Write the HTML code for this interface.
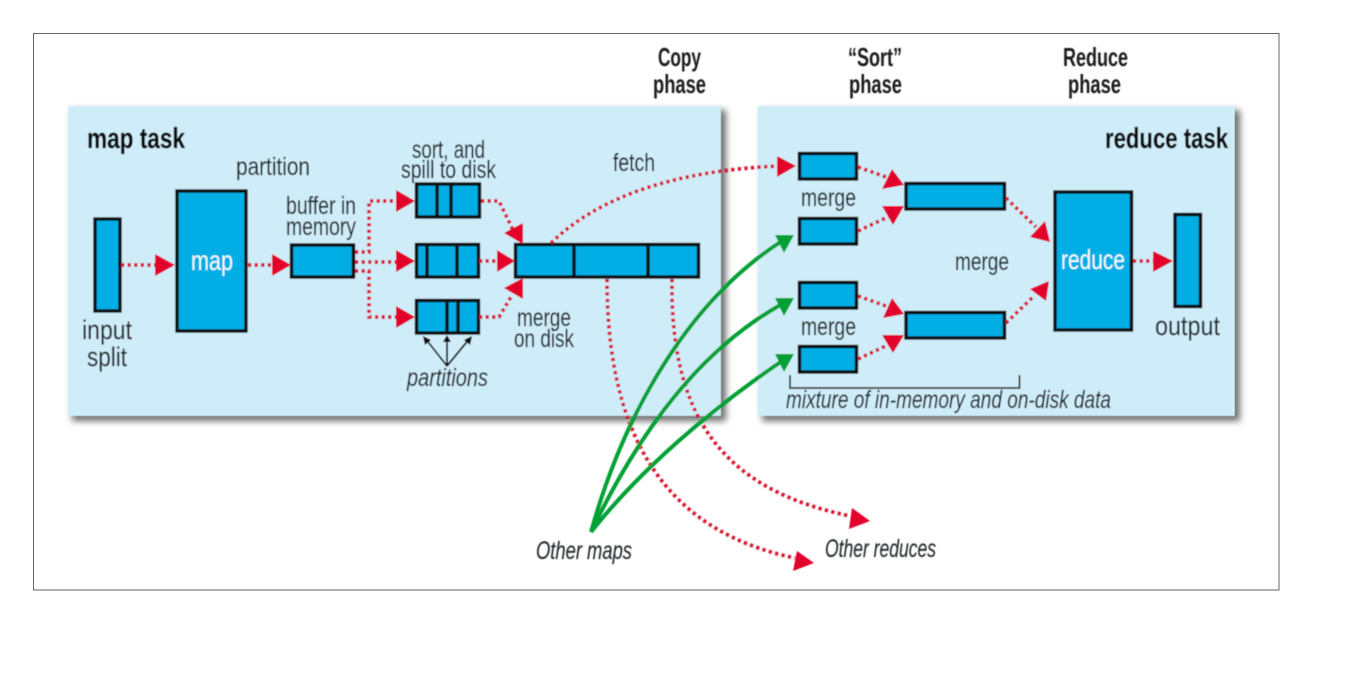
<!DOCTYPE html>
<html>
<head>
<meta charset="utf-8">
<style>
html,body{margin:0;padding:0;background:#fff;width:1358px;height:684px;overflow:hidden}
svg{display:block}
text{font-family:"Liberation Sans Narrow","Liberation Sans",sans-serif;fill:#25292e;font-size:25px;stroke:#25292e;stroke-width:.15}
.b{font-weight:bold;fill:#0c0c0c;stroke:#0c0c0c;stroke-width:.3}
.t{font-weight:bold;fill:#1a1a1a;font-size:26px;stroke:none}
.w{fill:#f2fbff;stroke:none;font-size:28px}
.i{font-style:italic}
.box{fill:#00ade4;stroke:#111;stroke-width:3.4}
.div{stroke:#111;stroke-width:3.4;fill:none}
.red{fill:none;stroke:#d8132f;stroke-width:3.7;stroke-dasharray:3.2 3.4}
.green{fill:none;stroke:#00a036;stroke-width:4}
.rh{fill:#e3002b}
.gh{fill:#00a036}
</style>
</head>
<body>
<svg width="1358" height="684" viewBox="0 0 1358 684" xmlns="http://www.w3.org/2000/svg">
<defs>
<filter id="sh" x="-5%" y="-5%" width="110%" height="110%"><feGaussianBlur stdDeviation="3.5"/></filter>
<filter id="soft" x="0" y="0" width="100%" height="100%"><feGaussianBlur stdDeviation="0.5"/></filter>
</defs>
<rect x="33.5" y="33.5" width="1245.500" height="556.500" fill="#fff" stroke="#666" stroke-width="1"/>
<rect x="72" y="110" width="654" height="311" fill="#555" opacity=".85" filter="url(#sh)"/>
<rect x="762" y="110" width="478" height="311" fill="#555" opacity=".85" filter="url(#sh)"/>
<g filter="url(#soft)">
<rect x="68" y="106" width="653" height="310" fill="#cfedf9"/>
<rect x="758" y="106" width="477" height="310" fill="#cfedf9"/>

<!-- boxes -->
<rect class="box" x="95" y="219" width="25" height="92"/>
<rect class="box" x="177" y="191" width="69" height="140"/>
<rect class="box" x="291.500" y="245" width="62" height="32"/>
<rect class="box" x="416.500" y="184" width="63" height="33"/>
<path class="div" d="M437,184V217M451,184V217"/>
<rect class="box" x="416.500" y="244.500" width="62" height="32.500"/>
<path class="div" d="M427,244V277M457,244V277"/>
<rect class="box" x="416.500" y="300.500" width="62" height="32.500"/>
<path class="div" d="M447,300V333M458,300V333"/>
<rect class="box" x="515.500" y="244.500" width="183" height="32.500"/>
<path class="div" d="M574,244V277M648,244V277"/>
<rect class="box" x="799.500" y="153.500" width="57" height="25.500"/>
<rect class="box" x="799.500" y="218.500" width="57" height="25.500"/>
<rect class="box" x="799.500" y="282.500" width="57" height="25.500"/>
<rect class="box" x="799.500" y="346.500" width="57" height="25.500"/>
<rect class="box" x="906" y="183.500" width="98.500" height="25.500"/>
<rect class="box" x="906" y="312.500" width="98.500" height="25.500"/>
<rect class="box" x="1055" y="192" width="76.500" height="138"/>
<rect class="box" x="1175" y="214.500" width="25.500" height="92"/>

<!-- red dotted connectors -->
<path class="red" d="M121,265H157M248,265H274"/>
<path class="red" d="M355,252H369V201H397M355,262H397M355,271H369V317H397"/>
<path class="red" d="M481,201H499L513,230M479,261H498M479,317H499L511,297"/>
<path class="red" d="M551,243C600,195 680,170 780,166"/>
<path class="red" d="M607,279C607,430 660,530 795,558"/>
<path class="red" d="M672,279C670,420 725,490 850,516"/>
<path class="red" d="M858,167L886,177M858,231L888,217M858,296L886,306M858,359L888,345"/>
<path class="red" d="M1006,198L1036,227M1006,323L1034,296M1133,261H1156"/>

<!-- red arrowheads -->
<g class="rh">
<polygon points="155,254 175,265 155,276"/>
<polygon points="272,254 291,265 272,276"/>
<polygon points="396,190 415,201 396,212"/>
<polygon points="396,250 415,261 396,272"/>
<polygon points="396,306 415,317 396,328"/>
<polygon points="504,233 523,223 523,244"/>
<polygon points="497,250 515,261 497,272"/>
<polygon points="504,288 523,278 523,299"/>
<polygon points="777,156 796,166 777,177"/>
<polygon points="892,169 882,189 904,185"/>
<polygon points="882,206 904,206 893,225"/>
<polygon points="892,298 883,318 904,314"/>
<polygon points="882,335 904,335 893,353"/>
<polygon points="1045,221 1030,237 1050,242"/>
<polygon points="1030,289 1049,281 1046,301"/>
<polygon points="1153,251 1173,261 1153,272"/>
<polygon points="797,551 793,571 814,563"/>
<polygon points="852,508 849,529 870,521"/>
</g>

<!-- green connectors -->
<path class="green" d="M591,532C625,410 690,300 782,241"/>
<path class="green" d="M591,532C640,430 700,350 782,304"/>
<path class="green" d="M591,532C640,470 710,410 782,361"/>
<g class="gh">
<polygon points="775,235 794,235 784,253"/>
<polygon points="775,298 794,298 784,316"/>
<polygon points="775,354 794,354 784,372"/>
</g>

<!-- partition arrows and bracket -->
<g fill="none" stroke="#111" stroke-width="1.8">
<path d="M447,366L425,338M447,366V338M447,366L470,338"/>
<path d="M790,375V388H1019.500V375" stroke="#333"/>
</g>
<g fill="#111">
<polygon points="423,336 431,340 425,345"/>
<polygon points="447,335 451,342 443,342"/>
<polygon points="472,336 470,345 464,340"/>
</g>

<!-- text -->
<text class="t" x="658" y="66" textLength="43" lengthAdjust="spacingAndGlyphs">Copy</text>
<text class="t" x="653" y="93" textLength="53" lengthAdjust="spacingAndGlyphs">phase</text>
<text class="t" x="848" y="66" textLength="54" lengthAdjust="spacingAndGlyphs">“Sort”</text>
<text class="t" x="849" y="93" textLength="53" lengthAdjust="spacingAndGlyphs">phase</text>
<text class="t" x="1063" y="66" textLength="65" lengthAdjust="spacingAndGlyphs">Reduce</text>
<text class="t" x="1068" y="93" textLength="53" lengthAdjust="spacingAndGlyphs">phase</text>

<text class="b" style="font-size:29px" x="87" y="148" textLength="98" lengthAdjust="spacingAndGlyphs">map task</text>
<text class="b" style="font-size:29px" x="1105" y="148" textLength="123" lengthAdjust="spacingAndGlyphs">reduce task</text>

<text x="236" y="175" textLength="74" lengthAdjust="spacingAndGlyphs">partition</text>
<text x="286" y="214" textLength="70" lengthAdjust="spacingAndGlyphs">buffer in</text>
<text x="286" y="235" textLength="70" lengthAdjust="spacingAndGlyphs">memory</text>
<text style="font-size:27px" x="82" y="339" textLength="50" lengthAdjust="spacingAndGlyphs">input</text>
<text style="font-size:27px" x="87" y="366" textLength="40" lengthAdjust="spacingAndGlyphs">split</text>
<text class="w" x="191" y="270" textLength="42" lengthAdjust="spacingAndGlyphs">map</text>
<text x="412" y="158" textLength="73" lengthAdjust="spacingAndGlyphs">sort, and</text>
<text x="401" y="178" textLength="95" lengthAdjust="spacingAndGlyphs">spill to disk</text>
<text x="613" y="171" textLength="42" lengthAdjust="spacingAndGlyphs">fetch</text>
<text x="517" y="326" textLength="54" lengthAdjust="spacingAndGlyphs">merge</text>
<text x="514" y="347" textLength="60" lengthAdjust="spacingAndGlyphs">on disk</text>
<text class="i" x="407" y="386" textLength="81" lengthAdjust="spacingAndGlyphs">partitions</text>

<text x="801" y="206" textLength="55" lengthAdjust="spacingAndGlyphs">merge</text>
<text x="955" y="270" textLength="54" lengthAdjust="spacingAndGlyphs">merge</text>
<text x="801" y="335" textLength="55" lengthAdjust="spacingAndGlyphs">merge</text>
<text class="w" x="1061" y="269" textLength="64" lengthAdjust="spacingAndGlyphs">reduce</text>
<text style="font-size:27px" x="1155" y="335" textLength="65" lengthAdjust="spacingAndGlyphs">output</text>
<text class="i" x="786" y="408" textLength="325" lengthAdjust="spacingAndGlyphs">mixture of in-memory and on-disk data</text>
<text class="i" x="536" y="559" textLength="96" lengthAdjust="spacingAndGlyphs">Other maps</text>
<text class="i" x="825" y="557" textLength="111" lengthAdjust="spacingAndGlyphs">Other reduces</text>
</g>
</svg>
</body>
</html>
